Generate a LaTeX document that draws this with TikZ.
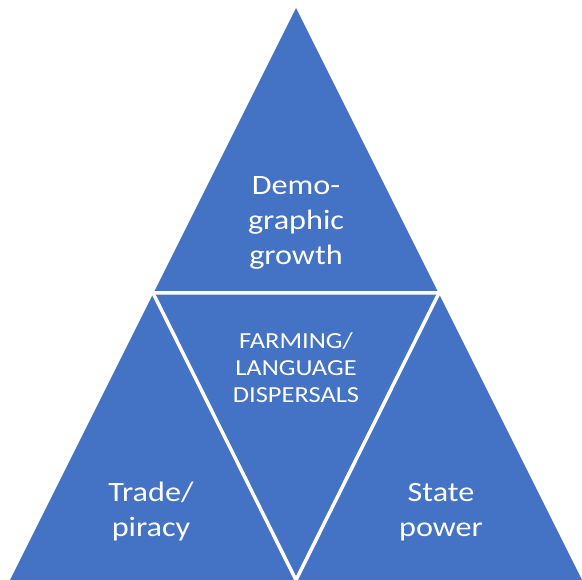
\documentclass[tikz,border=0pt]{standalone}
\usepackage{fontspec}
\setmainfont[FakeStretch=1.15]{Carlito}
\definecolor{pyrblue}{HTML}{4472C4}
\tikzset{
  bigtext/.style={text=white, align=center, font=\fontsize{28}{35}\selectfont},
  midtext/.style={text=white, align=center, font=\fontsize{23}{27}\selectfont},
  divider/.style={draw=white, line width=3.5pt, line cap=round}
}
\begin{document}
\begin{tikzpicture}[x=1pt, y=-1pt]
		%%%%% FRAME %%%%%
		\useasboundingbox (0, 0) rectangle (582, 580);
		
		\coordinate (apex) at (296, 8);
		\coordinate (baseL) at (10, 580);
		\coordinate (baseR) at (582, 580);
		\coordinate (midL) at (153, 293);
		\coordinate (midR) at (439, 293);
		\coordinate (baseM) at (296, 580);
		
		%%%%% TRIANGLES %%%%%
		\fill[pyrblue] (apex) -- (baseL) -- (baseR) -- cycle;
		\draw[divider] (midL) -- (midR) -- (baseM) -- cycle;
		
		%%%%% LABELS %%%%%
		\node[bigtext] (demo) at (296, 223) {Demo-\\graphic\\growth};
		\node[midtext] (farm) at (296, 368) {FARMING/\\LANGUAGE\\DISPERSALS};
		\node[bigtext] (trade) at (151, 512) {Trade/\\piracy};
		\node[bigtext] (state) at (441, 512) {State\\power};
\end{tikzpicture}
\end{document}
